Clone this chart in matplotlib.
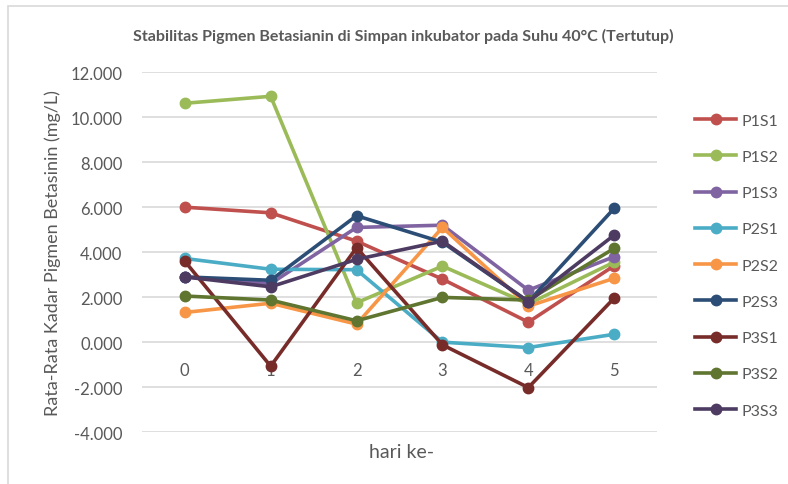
import matplotlib
matplotlib.use("Agg")
import matplotlib.pyplot as plt
from matplotlib.patches import Rectangle

plt.rcParams['font.family'] = ['Lato', 'DejaVu Sans']

hari = [0, 1, 2, 3, 4, 5]
hari_labels = ['0', '1', '2', '3', '4', '5']

p1s1 = [6.00, 5.75, 4.49, 2.80, 0.89, 3.40]
p1s2 = [10.62, 10.93, 1.75, 3.38, 1.70, 3.56]
p1s3 = [2.90, 2.60, 5.10, 5.20, 2.31, 3.80]
p2s1 = [3.72, 3.24, 3.22, 0.00, -0.24, 0.35]
p2s2 = [1.32, 1.73, 0.80, 5.10, 1.60, 2.84]
p2s3 = [2.90, 2.75, 5.62, 4.44, 1.80, 5.95]
p3s1 = [3.60, -1.07, 4.20, -0.12, -2.02, 1.96]
p3s2 = [2.05, 1.87, 0.95, 1.99, 1.87, 4.17]
p3s3 = [2.90, 2.46, 3.68, 4.49, 1.80, 4.76]

series = [
    ('P1S1', p1s1, '#C0504D'),
    ('P1S2', p1s2, '#9BBB59'),
    ('P1S3', p1s3, '#8064A2'),
    ('P2S1', p2s1, '#4BACC6'),
    ('P2S2', p2s2, '#F79646'),
    ('P2S3', p2s3, '#2C4D75'),
    ('P3S1', p3s1, '#772C2A'),
    ('P3S2', p3s2, '#5F7530'),
    ('P3S3', p3s3, '#4D3B62'),
]

teks = '#595959'

fig = plt.figure(figsize=(7.88, 4.85), dpi=100)
ax = fig.add_axes([0.180, 0.107, 0.654, 0.742])

for nama, nilai, warna in series:
    ax.plot(hari, nilai, color=warna, linewidth=2.6, marker='o',
            markersize=7.5, label=nama)

ax.set_xlim(-0.5, 5.5)
ax.set_ylim(-4, 12)
ax.set_yticks(range(-4, 13, 2))
ax.set_yticklabels(['%.3f' % v for v in range(-4, 13, 2)])
ax.grid(axis='y', color='#D9D9D9', linewidth=1.2)
ax.set_axisbelow(True)
for s in ax.spines.values():
    s.set_visible(False)
ax.spines['bottom'].set_position(('data', 0))
ax.set_xticks(hari)
ax.set_xticklabels(hari_labels)
ax.tick_params(axis='x', length=0, pad=14, labelsize=12, labelcolor=teks)
ax.tick_params(axis='y', length=0, pad=14, labelsize=12, labelcolor=teks)

ax.set_ylabel('Rata-Rata Kadar Pigmen Betasinin (mg/L)', fontsize=13,
              color=teks, labelpad=7)
fig.text(0.510, 0.067, 'hari ke-', ha='center', va='center', fontsize=14,
         color=teks)
fig.text(0.512, 0.925, 'Stabilitas Pigmen Betasianin di Simpan inkubator pada Suhu 40°C (Tertutup)',
         ha='center', va='center', fontsize=11.5, fontweight='bold', color=teks)

leg = ax.legend(loc='upper left', bbox_to_anchor=(1.045, 0.925), frameon=False,
                fontsize=11.5, labelspacing=1.38, handlelength=2.6,
                handletextpad=0.3, labelcolor=teks)

fig.patches.append(Rectangle((8 / 788, -0.02), 1.05, 1 - 7 / 485 + 0.02,
                             transform=fig.transFigure, fill=False,
                             edgecolor='#D9D9D9', linewidth=1.2))

fig.savefig('out.png', dpi=100, facecolor='white')
